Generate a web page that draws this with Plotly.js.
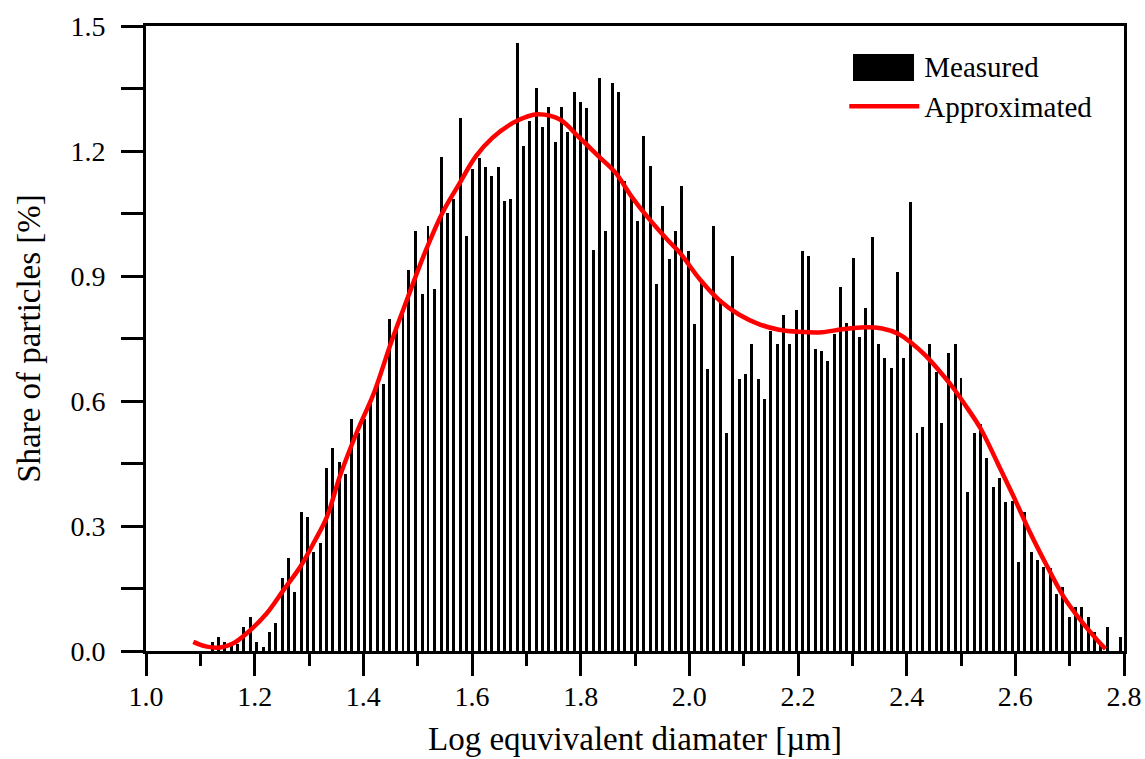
<!DOCTYPE html>
<html>
<head>
<meta charset="utf-8">
<script src="https://cdn.plot.ly/plotly-3.0.1.min.js"></script>
<style>
  html, body { margin: 0; padding: 0; background: #ffffff; }
  #chart { width: 1145px; height: 759px; }
</style>
</head>
<body>
<div id="chart"></div>
<script>
// Bin centres (log equivalent diameter)
const binCenters = [
  1.122,1.134,1.145,1.157,1.169,1.180,1.192,1.204,1.216,1.227,
  1.239,1.251,1.262,1.274,1.286,1.297,1.309,1.321,1.332,1.344,
  1.356,1.367,1.379,1.391,1.402,1.414,1.426,1.438,1.449,1.461,
  1.473,1.484,1.496,1.508,1.519,1.531,1.543,1.554,1.566,1.578,
  1.589,1.601,1.613,1.624,1.636,1.648,1.659,1.671,1.683,1.694,
  1.706,1.718,1.730,1.741,1.753,1.765,1.776,1.788,1.800,1.811,
  1.823,1.835,1.846,1.858,1.870,1.881,1.893,1.905,1.916,1.928,
  1.940,1.951,1.963,1.975,1.986,1.998,2.010,2.022,2.033,2.045,
  2.057,2.068,2.080,2.092,2.103,2.115,2.127,2.138,2.150,2.162,
  2.173,2.185,2.197,2.208,2.220,2.232,2.243,2.255,2.267,2.279,
  2.290,2.302,2.314,2.325,2.337,2.349,2.360,2.372,2.384,2.395,
  2.407,2.419,2.430,2.442,2.454,2.465,2.477,2.489,2.500,2.512,
  2.524,2.535,2.547,2.559,2.571,2.582,2.594,2.606,2.617,2.629,
  2.641,2.652,2.664,2.676,2.687,2.699,2.711,2.722,2.734,2.746,
  2.757,2.769,2.781,2.793
];

// Measured share of particles [%]
const measuredShare = [
  0.022,0.033,0.021,0.012,0.018,0.057,0.081,0.022,0.010,0.045,
  0.068,0.176,0.224,0.142,0.333,0.322,0.237,0.260,0.440,0.488,
  0.454,0.425,0.557,0.524,0.557,0.596,0.642,0.642,0.796,0.773,
  0.816,0.914,1.008,0.858,1.021,0.868,1.186,1.052,1.086,1.280,
  0.997,1.157,1.183,1.162,1.139,1.162,1.080,1.085,1.459,1.212,
  1.271,1.352,1.258,1.305,1.222,1.305,1.246,1.341,1.317,1.304,
  0.962,1.376,1.009,1.364,1.341,1.128,1.092,1.033,1.235,1.164,
  0.881,1.068,0.940,1.008,1.115,0.961,0.784,0.887,0.678,1.021,
  0.845,0.524,0.949,0.653,0.666,0.737,0.653,0.606,0.769,0.737,
  0.807,0.737,0.818,0.961,0.949,0.724,0.720,0.696,0.762,0.873,
  0.788,0.944,0.753,0.824,0.993,0.738,0.704,0.680,0.909,0.704,
  1.077,0.524,0.537,0.738,0.669,0.548,0.716,0.738,0.656,0.381,
  0.524,0.546,0.464,0.393,0.416,0.357,0.360,0.213,0.333,0.237,
  0.218,0.202,0.200,0.138,0.153,0.082,0.105,0.105,0.081,0.045,
  0.022,0.057,0.000,0.033
];

// Approximated (fitted) curve
const approxX = [
  1.087,1.110,1.135,1.160,1.185,1.222,1.253,1.284,1.308,1.333,
  1.357,1.389,1.420,1.451,1.482,1.513,1.545,1.576,1.607,1.638,
  1.676,1.700,1.722,1.761,1.797,1.834,1.864,1.894,1.924,1.961,
  1.983,2.020,2.056,2.092,2.129,2.165,2.202,2.244,2.281,2.324,
  2.355,2.385,2.410,2.434,2.459,2.483,2.508,2.536,2.567,2.597,
  2.628,2.659,2.689,2.720,2.751,2.766
];
const approxY = [
  0.022,0.011,0.008,0.018,0.042,0.090,0.146,0.202,0.258,0.322,
  0.420,0.528,0.621,0.740,0.849,0.955,1.050,1.120,1.187,1.232,
  1.268,1.282,1.288,1.276,1.233,1.186,1.148,1.090,1.040,0.985,
  0.955,0.891,0.841,0.807,0.784,0.771,0.766,0.765,0.772,0.777,
  0.774,0.761,0.738,0.710,0.674,0.636,0.590,0.534,0.452,0.370,
  0.282,0.202,0.130,0.074,0.026,0.005
];

const xTickVals = [1.0,1.2,1.4,1.6,1.8,2.0,2.2,2.4,2.6,2.8];
const xTickText = ['1.0','1.2','1.4','1.6','1.8','2.0','2.2','2.4','2.6','2.8'];
const yTickVals = [0.0,0.3,0.6,0.9,1.2,1.5];
const yTickText = ['0.0','0.3','0.6','0.9','1.2','1.5'];

const FONT = '"Liberation Serif", "Times New Roman", Times, serif';

const traces = [
  {
    type: 'bar',
    x: binCenters,
    y: measuredShare,
    width: 0.0055,
    marker: { color: '#000000', line: { width: 0 } },
    showlegend: false,
    name: 'Measured',
    hoverinfo: 'x+y'
  },
  {
    type: 'scatter',
    mode: 'lines',
    x: [null],
    y: [null],
    name: 'Measured',
    line: { color: 'rgba(0,0,0,0)', width: 1 },
    showlegend: true,
    hoverinfo: 'skip'
  },
  {
    type: 'scatter',
    mode: 'lines',
    x: approxX,
    y: approxY,
    name: 'Approximated',
    line: { color: '#ff0000', width: 4.5, shape: 'spline', smoothing: 1 },
    showlegend: true
  }
];

const axisCommon = {
  showline: true,
  linecolor: '#000000',
  linewidth: 3,
  mirror: true,
  showgrid: false,
  zeroline: false,
  ticks: 'outside',
  tickcolor: '#000000',
  tickwidth: 3,
  ticklen: 22,
  tickfont: { family: FONT, size: 28, color: '#000000' }
};

const layout = {
  width: 1145,
  height: 759,
  paper_bgcolor: '#ffffff',
  plot_bgcolor: '#ffffff',
  margin: { l: 146, r: 21, t: 26, b: 108 },
  bargap: 0,
  showlegend: true,
  legend: {
    x: 0.714, xanchor: 'left',
    y: 0.9774, yanchor: 'top',
    bgcolor: 'rgba(0,0,0,0)',
    borderwidth: 0,
    itemwidth: 70,
    tracegroupgap: 0,
    font: { family: FONT, size: 29, color: '#000000' }
  },
  // swatch of the "Measured" legend entry (filled black block, as in the original legend)
  shapes: [
    {
      type: 'rect', xref: 'paper', yref: 'paper',
      x0: 0.7229, x1: 0.7853, y0: 0.912, y1: 0.9552,
      fillcolor: '#000000', line: { width: 0 }, layer: 'above'
    }
  ],
  xaxis: Object.assign({}, axisCommon, {
    range: [1.0, 2.8],
    tickmode: 'array',
    tickvals: xTickVals,
    ticktext: xTickText,
    ticklabelstandoff: -4,
    minor: { dtick: 0.1, ticks: 'outside', ticklen: 12, tickwidth: 3, tickcolor: '#000000', showgrid: false },
    title: { text: 'Log equvivalent diamater [µm]', font: { family: FONT, size: 33, color: '#000000' }, standoff: 17 }
  }),
  yaxis: Object.assign({}, axisCommon, {
    range: [0, 1.5],
    tickmode: 'array',
    tickvals: yTickVals,
    ticktext: yTickText,
    ticklabelstandoff: 10,
    minor: { dtick: 0.15, ticks: 'outside', ticklen: 22, tickwidth: 3, tickcolor: '#000000', showgrid: false },
    title: { text: 'Share of particles [%]', font: { family: FONT, size: 33, color: '#000000' }, standoff: 20 }
  })
};

Plotly.newPlot('chart', traces, layout, { displayModeBar: false, staticPlot: true });
</script>
</body>
</html>
